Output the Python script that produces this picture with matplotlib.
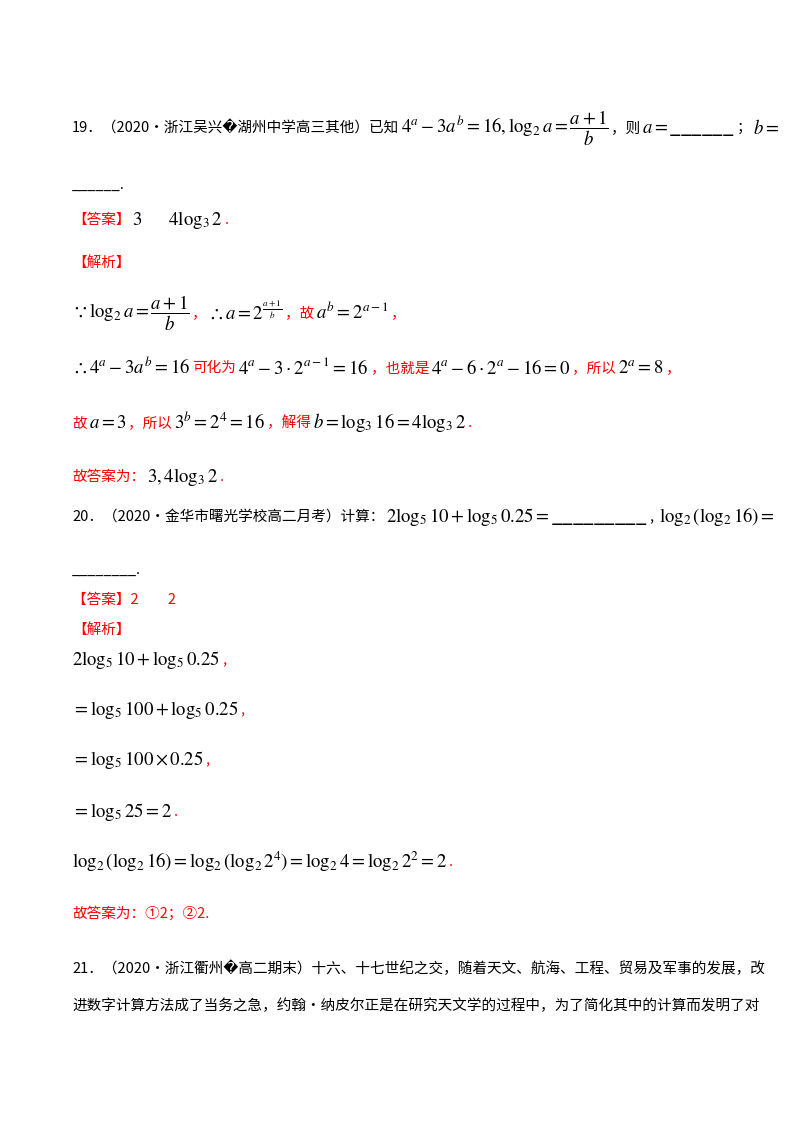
import matplotlib.pyplot as plt

plt.rcParams['font.family'] = ['Noto Sans CJK SC', 'DejaVu Sans']
plt.rcParams['mathtext.fontset'] = 'stix'

RED = '#ff0000'
BLK = '#000000'

# text pieces of each line: (text, colour)
q19 = [('19．（2020·浙江吴兴�湖州中学高三其他）已知', BLK),
       (r'$4^a-3a^b=16,\log_2 a=\dfrac{a+1}{b}$', BLK),
       ('，则', BLK), (r'$a=$______', BLK), ('；', BLK), (r'$b=$', BLK)]
q19_blank = [('______.', BLK)]
ans19 = [('【答案】', RED), (r'$3\qquad 4\log_3 2$', BLK), ('.', RED)]
jiexi = [('【解析】', RED)]
sol19 = [
    [(r'$\because\log_2 a=\dfrac{a+1}{b}$', BLK), ('，', RED), (r'$\therefore a=2^{\frac{a+1}{b}}$', BLK),
     ('，故', RED), (r'$a^b=2^{a-1}$', BLK), ('，', RED)],
    [(r'$\therefore 4^a-3a^b=16$', BLK), ('可化为', RED), (r'$4^a-3\cdot2^{a-1}=16$', BLK),
     ('，也就是', RED), (r'$4^a-6\cdot2^a-16=0$', BLK), ('，所以', RED), (r'$2^a=8$', BLK), ('，', RED)],
    [('故', RED), (r'$a=3$', BLK), ('，所以', RED), (r'$3^b=2^4=16$', BLK), ('，解得', RED),
     (r'$b=\log_3 16=4\log_3 2$', BLK), ('.', RED)],
    [('故答案为：', RED), (r'$3,4\log_3 2$', BLK), ('.', RED)],
]
q20 = [('20．（2020·金华市曙光学校高二月考）计算：', BLK),
       (r'$2\log_5 10+\log_5 0.25=$_________', BLK), (', ', BLK), (r'$\log_2(\log_2 16)=$', BLK)]
q20_blank = [('________.', BLK)]
ans20 = [('【答案】2　　2', RED)]
sol20 = [
    [(r'$2\log_5 10+\log_5 0.25$', BLK), (',', RED)],
    [(r'$=\log_5 100+\log_5 0.25$', BLK), (',', RED)],
    [(r'$=\log_5 100\times0.25$', BLK), (',', RED)],
    [(r'$=\log_5 25=2$', BLK), ('.', RED)],
    [(r'$\log_2(\log_2 16)=\log_2(\log_2 2^4)=\log_2 4=\log_2 2^2=2$', BLK), ('.', RED)],
    [('故答案为：①2；②2.', RED)],
]
q21 = [[('21．（2020·浙江衢州�高二期末）十六、十七世纪之交，随着天文、航海、工程、贸易及军事的发展，改', BLK)],
       [('进数字计算方法成了当务之急，约翰·纳皮尔正是在研究天文学的过程中，为了简化其中的计算而发明了对', BLK)]]

lines = [(128, q19), (185, q19_blank), (220, ans19), (263, jiexi)]
lines += list(zip([313, 368, 423, 477], sol19))
lines += [(517, q20), (570, q20_blank), (600, ans20), (630, jiexi)]
lines += list(zip([660, 710, 760, 812, 862, 913], sol20))
lines += list(zip([968, 1006], q21))

fig = plt.figure(figsize=(8, 11.32), dpi=100)
fig.patch.set_facecolor('white')
renderer = fig.canvas.get_renderer()
H = 1132
for y, parts in lines:
    x = 72
    for s, c in parts:
        size = 13.5 if s.startswith('$') else 10.5
        t = fig.text(x / 800, 1 - y / H, s, color=c, fontsize=size, va='center', ha='left')
        bb = t.get_window_extent(renderer)
        x += bb.width + 2

fig.savefig('out.png', dpi=100, facecolor='white')
